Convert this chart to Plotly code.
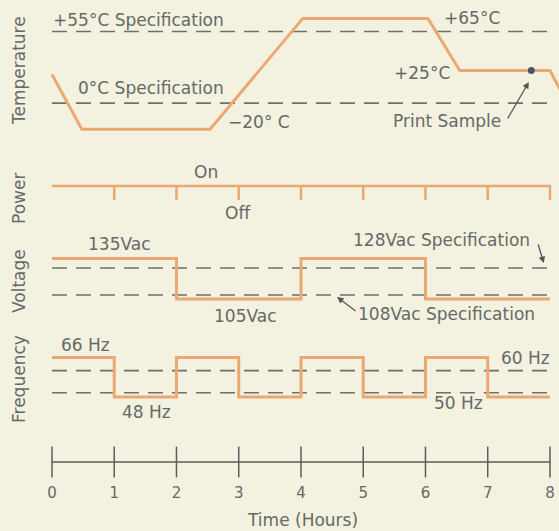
import plotly.graph_objects as go

# ---- data ----
temp_hours = [0, 0.48, 2.54, 4.03, 6.04, 6.55, 8.0, 8.5]
temp_values = [22, -20, -20, 65, 65, 25, 25, -20]
temp_specs = [55, 0]

print_sample_hour = 7.7
print_sample_temp = 25

power_pulse_hours = [1, 2, 3, 4, 5, 6, 7, 8]
power_on = 1
power_off = 0

voltage_hours = [0, 2, 4, 6, 8]
voltage_values = [135, 105, 135, 105, 105]
voltage_specs = [128, 108]

freq_hours = [0, 1, 2, 3, 4, 5, 6, 7, 8]
freq_values = [66, 48, 66, 48, 66, 48, 66, 48, 48]
freq_specs = [60, 50]

time_ticks = [0, 1, 2, 3, 4, 5, 6, 7, 8]

BG = "#f3f1e0"
ORANGE = "#eca872"
DASH = "#6f6f6c"
TEXT = "#666a66"
FONT = "DejaVu Sans"

fig = go.Figure()


def spec_line(y, xa, ya):
    fig.add_trace(go.Scatter(
        x=[time_ticks[0], time_ticks[-1]], y=[y, y], mode="lines",
        line=dict(color=DASH, width=1.6, dash="15px,9px"),
        xaxis=xa, yaxis=ya, hoverinfo="skip"))


# Temperature
for s in temp_specs:
    spec_line(s, "x", "y")
fig.add_trace(go.Scatter(x=temp_hours, y=temp_values, mode="lines",
                         line=dict(color=ORANGE, width=3), xaxis="x", yaxis="y"))
fig.add_trace(go.Scatter(x=[print_sample_hour], y=[print_sample_temp], mode="markers",
                         marker=dict(color="#505468", size=7), xaxis="x", yaxis="y"))

# Power: on, with a short off pulse at each hour
px, py = [0], [power_on]
for h in power_pulse_hours:
    px += [h, h, h]
    py += [power_on, power_off, power_on]
fig.add_trace(go.Scatter(x=px, y=py, mode="lines",
                         line=dict(color=ORANGE, width=2.5), xaxis="x2", yaxis="y2"))

# Voltage
for s in voltage_specs:
    spec_line(s, "x3", "y3")
fig.add_trace(go.Scatter(x=voltage_hours, y=voltage_values, mode="lines",
                         line=dict(color=ORANGE, width=3, shape="hv"),
                         xaxis="x3", yaxis="y3"))

# Frequency
for s in freq_specs:
    spec_line(s, "x4", "y4")
fig.add_trace(go.Scatter(x=freq_hours, y=freq_values, mode="lines",
                         line=dict(color=ORANGE, width=3, shape="hv"),
                         xaxis="x4", yaxis="y4"))

# Time axis
fig.add_trace(go.Scatter(x=time_ticks, y=[0] * len(time_ticks), mode="lines+markers",
                         line=dict(color="#5c5c5c", width=1.5),
                         marker=dict(symbol="line-ns", size=22,
                                     line=dict(color="#5c5c5c", width=1.5)),
                         xaxis="x5", yaxis="y5"))

xr = [-0.835, 8.145]
ax_off = dict(range=xr, visible=False, fixedrange=True)


def px2paper(p):
    return 1 - p / 531


layout_axes = {}
for key, dom, yr in [
    ("", (0, 150), [-35.9, 79.1]),
    ("2", (160, 225), [-1.786, 2.857]),
    ("3", (225, 325), [85.8, 159.9]),
    ("4", (335, 420), [37.6, 76.2]),
    ("5", (442, 482), [-1, 1]),
]:
    layout_axes["xaxis" + key] = dict(ax_off, anchor="y" + key)
    layout_axes["yaxis" + key] = dict(range=yr, visible=False, fixedrange=True,
                                      domain=[px2paper(dom[1]), px2paper(dom[0])],
                                      anchor="x" + key)

layout_axes["xaxis5"] = dict(range=xr, anchor="y5", showgrid=False, zeroline=False,
                             showline=False, tickvals=time_ticks, ticks="",
                             tickfont=dict(family=FONT, size=15, color=TEXT))

annotations = []


def label(text, x, y, xa="x", ya="y", anchor="left", size=17):
    annotations.append(dict(text=text, x=x, y=y, xref=xa, yref=ya, showarrow=False,
                            xanchor=anchor, yanchor="middle",
                            font=dict(family=FONT, size=size, color=TEXT)))


def arrow(x, y, ax, ay, xa, ya):
    annotations.append(dict(text="", x=x, y=y, xref=xa, yref=ya, ax=ax, ay=ay,
                            showarrow=True, arrowhead=2, arrowsize=1, arrowwidth=1.3,
                            arrowcolor="#545454"))


label("+55°C Specification", -0.02, 63.8)
label("0°C Specification", 0.38, 11.6)
label("−20° C", 2.79, -14.8)
label("+65°C", 6.26, 65.0)
label("+25°C", 5.46, 22.9)
label("Print Sample", 5.44, -13.6)
arrow(7.66, 16.2, -22, 38, "x", "y")

label("On", 2.47, 2.0, "x2", "y2", "center")
label("Off", 2.99, -0.93, "x2", "y2", "center")

label("135Vac", 0.54, 145.8, "x3", "y3")
label("105Vac", 2.57, 92.4, "x3", "y3")
label("128Vac Specification", 4.80, 148.7, "x3", "y3")
label("108Vac Specification", 4.88, 94.0, "x3", "y3")
arrow(7.9, 131.7, -6, -20, "x3", "y3")
arrow(4.58, 106.5, 20, 15, "x3", "y3")

label("66 Hz", 0.11, 71.6, "x4", "y4")
label("48 Hz", 1.10, 41.2, "x4", "y4")
label("60 Hz", 7.18, 65.8, "x4", "y4")
label("50 Hz", 6.10, 45.3, "x4", "y4")

annotations.append(dict(text="Time (Hours)", x=4.02, y=px2paper(520), xref="x5",
                        yref="paper", showarrow=False, xanchor="center", yanchor="middle",
                        font=dict(family=FONT, size=17, color=TEXT)))

for text, ypx in [("Temperature", 71), ("Power", 199), ("Voltage", 281), ("Frequency", 379)]:
    annotations.append(dict(text=text, x=19 / 559, y=px2paper(ypx), xref="paper",
                            yref="paper", showarrow=False, textangle=-90,
                            xanchor="center", yanchor="middle",
                            font=dict(family=FONT, size=17, color=TEXT)))

fig.update_layout(
    width=559, height=531,
    margin=dict(l=0, r=0, t=0, b=0),
    paper_bgcolor=BG, plot_bgcolor=BG,
    showlegend=False,
    annotations=annotations,
    **layout_axes,
)

# browser default body margin would shift the figure by 8px
fig.write_html("out.html", config={"displayModeBar": False},
               post_script="document.body.style.margin='0';"
                           "document.body.style.overflow='hidden';"
                           "document.body.style.background='%s';" % BG)
